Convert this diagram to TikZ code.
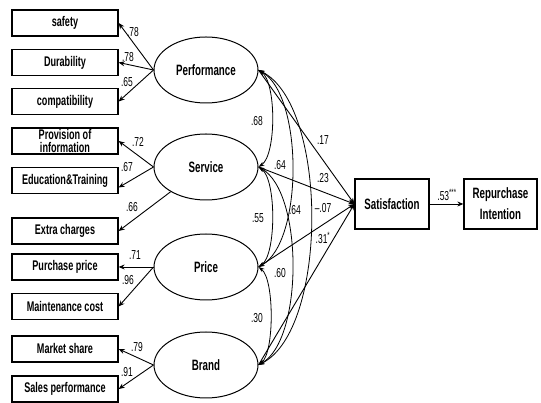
\documentclass[tikz,border=0pt]{standalone}
\usepackage{fontspec}
\setmainfont{Liberation Sans}[FakeStretch=0.65]
\usetikzlibrary{shapes.geometric,arrows.meta}

\begin{document}
\begin{tikzpicture}[x=1pt, y=1pt,
    item/.style={draw, line width=1.3pt, minimum width=106pt, minimum height=26pt, inner sep=0pt, align=center, font=\bfseries\fontsize{14}{12.5}\selectfont},
    factor/.style={draw, ellipse, line width=1pt, minimum width=104pt, minimum height=66pt, inner sep=0pt, font=\bfseries\fontsize{15}{15}\selectfont},
    outcome/.style={item, minimum width=74pt, minimum height=50pt, font=\bfseries\fontsize{15}{21}\selectfont},
    coef/.style={inner sep=0pt, font=\fontsize{13}{13}\selectfont},
    path/.style={line width=0.9pt, -{Stealth[length=6pt,width=5pt]}},
    corr/.style={line width=0.8pt, {Stealth[length=6pt,width=4pt]}-{Stealth[length=6pt,width=4pt]}}]
    \useasboundingbox (0,0) rectangle (541,403);

    % observed items
    \node [item] (safety) at (65,380) {safety};
    \node [item] (durab) at (65,340.5) {Durability};
    \node [item] (compat) at (65,301.5) {compatibility};
    \node [item] (provis) at (65,262) {Provision of\\information};
    \node [item] (educ) at (65,222.5) {Education\&Training};
    \node [item] (extra) at (65,172) {Extra charges};
    \node [item] (purch) at (65,136) {Purchase price};
    \node [item] (maint) at (65,96.5) {Maintenance cost};
    \node [item] (market) at (65,54) {Market share};
    \node [item] (sales) at (65,14) {Sales performance};

    % latent factors
    \node [factor] (perf) at (206,333) {Performance};
    \node [factor] (serv) at (206,236) {Service};
    \node [factor] (price) at (206,136) {Price};
    \node [factor] (brand) at (206,38) {Brand};

    \node [outcome] (satis) at (392,199) {Satisfaction};
    \node [outcome, minimum width=73pt] (repur) at (500.5,199) {Repurchase\\Intention};

    % loadings
    \draw [path] (perf.west) -- (safety.east);
    \draw [path] (perf.west) -- (durab.east);
    \draw [path] (perf.west) -- (compat.east);
    \draw [path] (serv.west) -- (provis.east);
    \draw [path] (serv.west) -- ([yshift=-7pt]educ.east);
    \draw [path] (serv.215) -- (extra.east);
    \draw [path] (price.west) -- (purch.east);
    \draw [path] (price.west) -- (maint.east);
    \draw [path] (brand.west) -- (market.east);
    \draw [path] (brand.west) -- (sales.east);

    \node [coef] (lsafety) at (133,371) {.78};
    \node [coef] (ldurab) at (128,346) {.78};
    \node [coef] (lcompat) at (127,321) {.65};
    \node [coef] (lprovis) at (138,261) {.72};
    \node [coef] (leduc) at (127,236) {.67};
    \node [coef] (lextra) at (132,196) {.66};
    \node [coef] (lpurch) at (135,148) {.71};
    \node [coef] (lmaint) at (128,123) {.96};
    \node [coef] (lmarket) at (137,56) {.79};
    \node [coef] (lsales) at (127,31) {.91};

    % correlations
    \draw [corr] (perf.east) .. controls +(18,-12) and +(18,12) .. (serv.east);
    \draw [corr] (perf.east) .. controls +(45,-25) and +(45,25) .. (price.east);
    \draw [corr] (perf.east) .. controls +(70,-35) and +(70,35) .. (brand.east);
    \draw [corr] (serv.east) .. controls +(18,-12) and +(18,12) .. (price.east);
    \draw [corr] (serv.east) .. controls +(45,-25) and +(45,25) .. (brand.east);
    \draw [corr] (price.east) .. controls +(16,-12) and +(16,12) .. (brand.east);

    \node [coef] (rps) at (257,282) {.68};
    \node [coef] (rpp) at (280,238) {.64};
    \node [coef] (rsp) at (258,185) {.55};
    \node [coef] (rpb) at (295,193) {.64};
    \node [coef] (rsb) at (280,130) {.60};
    \node [coef] (rpr) at (257,85) {.30};

    % structural paths
    \draw [path] (perf.east) -- (satis.west);
    \draw [path] (serv.east) -- (satis.west);
    \draw [path] (price.east) -- (satis.west);
    \draw [path] (brand.east) -- (satis.west);
    \draw [path] (satis.east) -- (repur.west);

    \node [coef] (bperf) at (323,263) {.17};
    \node [coef] (bserv) at (323,225) {.23};
    \node [coef] (bprice) at (323,195) {--.07};
    \node [coef] (bbrand) at (323,165) {.31\textsuperscript{*}};
    \node [coef] (bsatis) at (447,208) {.53\textsuperscript{***}};
  \end{tikzpicture}
\end{document}
